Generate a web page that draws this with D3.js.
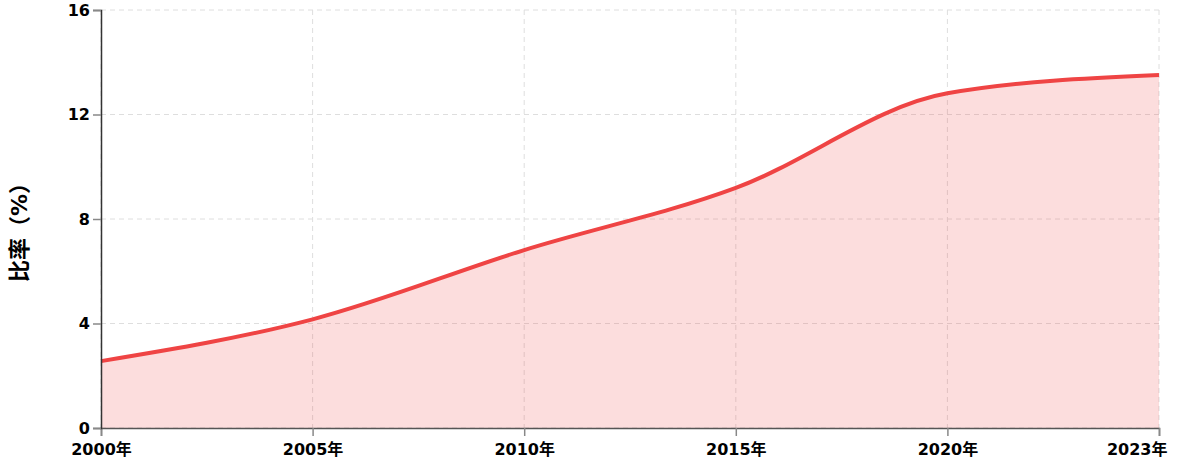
<!DOCTYPE html>
<html><head><meta charset="utf-8">
<script src="https://cdn.jsdelivr.net/npm/d3@7"></script>
<style>
body{margin:0;background:#fff;}
text{font-family:"DejaVu Sans","Noto Sans CJK SC",sans-serif;}
</style></head>
<body><svg id="c" width="1177" height="468"></svg>
<script>
const years = ["2000", "2005", "2010", "2015", "2020", "2023"];
const values = [2.56, 4.16, 6.81, 9.19, 12.81, 13.51];
const yTicks = [0, 4, 8, 12, 16];
const xTickLabels = ["2000年","2005年","2010年","2015年","2020年","2023年"];
const yLabel = "比率（%）";

const svg = d3.select("#c");
const W = 1177, H = 468;
const m = {l:101, r:18, t:10, b:40};
const x = d3.scalePoint().domain(years).range([m.l, W - m.r]);
const y = d3.scaleLinear().domain([0, 16]).range([H - m.b, m.t]);
const data = years.map((d,i)=>({year:d, v:values[i]}));
const FONT = '"DejaVu Sans","Noto Sans CJK SC",sans-serif';

// grid
const g = svg.append("g");
g.selectAll(".hg").data(yTicks).enter().append("line")
  .attr("x1", m.l).attr("x2", W - m.r).attr("y1", d=>y(d)).attr("y2", d=>y(d))
  .attr("stroke", "#dedede").attr("stroke-dasharray", "5,4").attr("stroke-width",1);
g.selectAll(".vg").data(years).enter().append("line")
  .attr("y1", m.t).attr("y2", H - m.b).attr("x1", d=>x(d)).attr("x2", d=>x(d))
  .attr("stroke", "#dedede").attr("stroke-dasharray", "5,4").attr("stroke-width",1);

const area = d3.area().x(d=>x(d.year)).y0(y(0)).y1(d=>y(d.v)).curve(d3.curveMonotoneX);
const line = d3.line().x(d=>x(d.year)).y(d=>y(d.v)).curve(d3.curveMonotoneX);
svg.append("path").datum(data).attr("d", area).attr("fill", "#ef4444").attr("fill-opacity", 0.18);
svg.append("path").datum(data).attr("d", line).attr("fill", "none").attr("stroke", "#ef4444").attr("stroke-width", 4);

// axes
const xa = svg.append("g").attr("transform", `translate(0,${H - m.b})`)
  .call(d3.axisBottom(x).tickFormat((d,i)=>xTickLabels[i]).tickSize(8).tickPadding(3));
const ya = svg.append("g").attr("transform", `translate(${m.l},0)`)
  .call(d3.axisLeft(y).tickValues(yTicks).tickSize(8).tickPadding(3));
[xa, ya].forEach(a=>{
  a.select(".domain").attr("stroke", "#555").attr("stroke-width", 1.5);
  a.selectAll(".tick line").attr("stroke", "#888").attr("stroke-width", 1.5);
  a.selectAll(".tick text").attr("fill", "#000").attr("font-size", 16).attr("font-weight", "bold")
   .attr("font-family", FONT);
});
ya.select(".domain").attr("stroke", "#333");
xa.selectAll(".tick text").attr("dy", "1em");
xa.selectAll(".tick").filter((d,i)=>i === years.length - 1).select("text")
  .attr("text-anchor", "end").attr("x", 8);

svg.append("text").attr("transform", `translate(27,227) rotate(-90)`)
  .attr("text-anchor", "middle").attr("font-size", 22).attr("font-weight", "bold")
  .attr("font-family", FONT)
  .text(yLabel);
</script></body></html>
